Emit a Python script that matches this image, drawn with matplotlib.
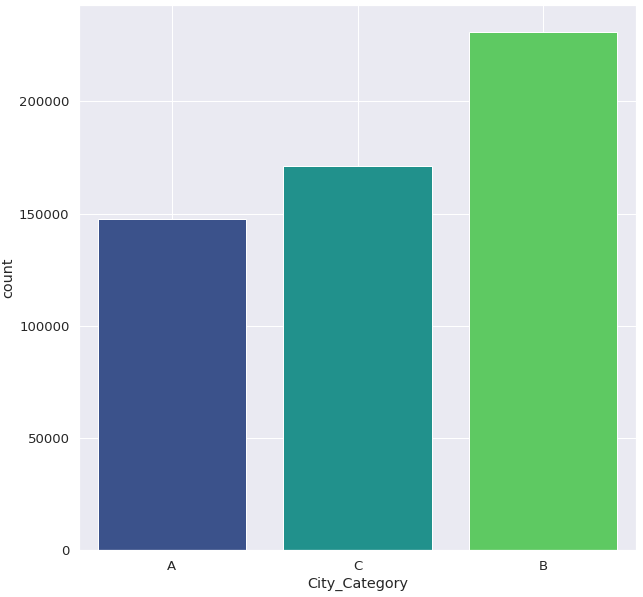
import matplotlib
matplotlib.use("Agg")
import matplotlib.pyplot as plt
import seaborn as sns

categories = ["A", "C", "B"]
counts = [147720, 171175, 231173]

sns.set_theme(style="darkgrid", font_scale=1.2)
fig = plt.figure(figsize=(643/72, 597/72), dpi=72)
ax = fig.add_axes([79/643, 1-550/597, (636-79)/643, (550-5)/597])
colors = sns.color_palette("viridis", 3)
ax.bar(categories, counts, width=0.8, color=colors, edgecolor="white")
ax.set_xlim(-0.5, 2.5)
ax.set_ylim(0, 243000)
ax.set_xlabel("City_Category")
ax.set_ylabel("count")
fig.savefig("out.png", dpi=72)
